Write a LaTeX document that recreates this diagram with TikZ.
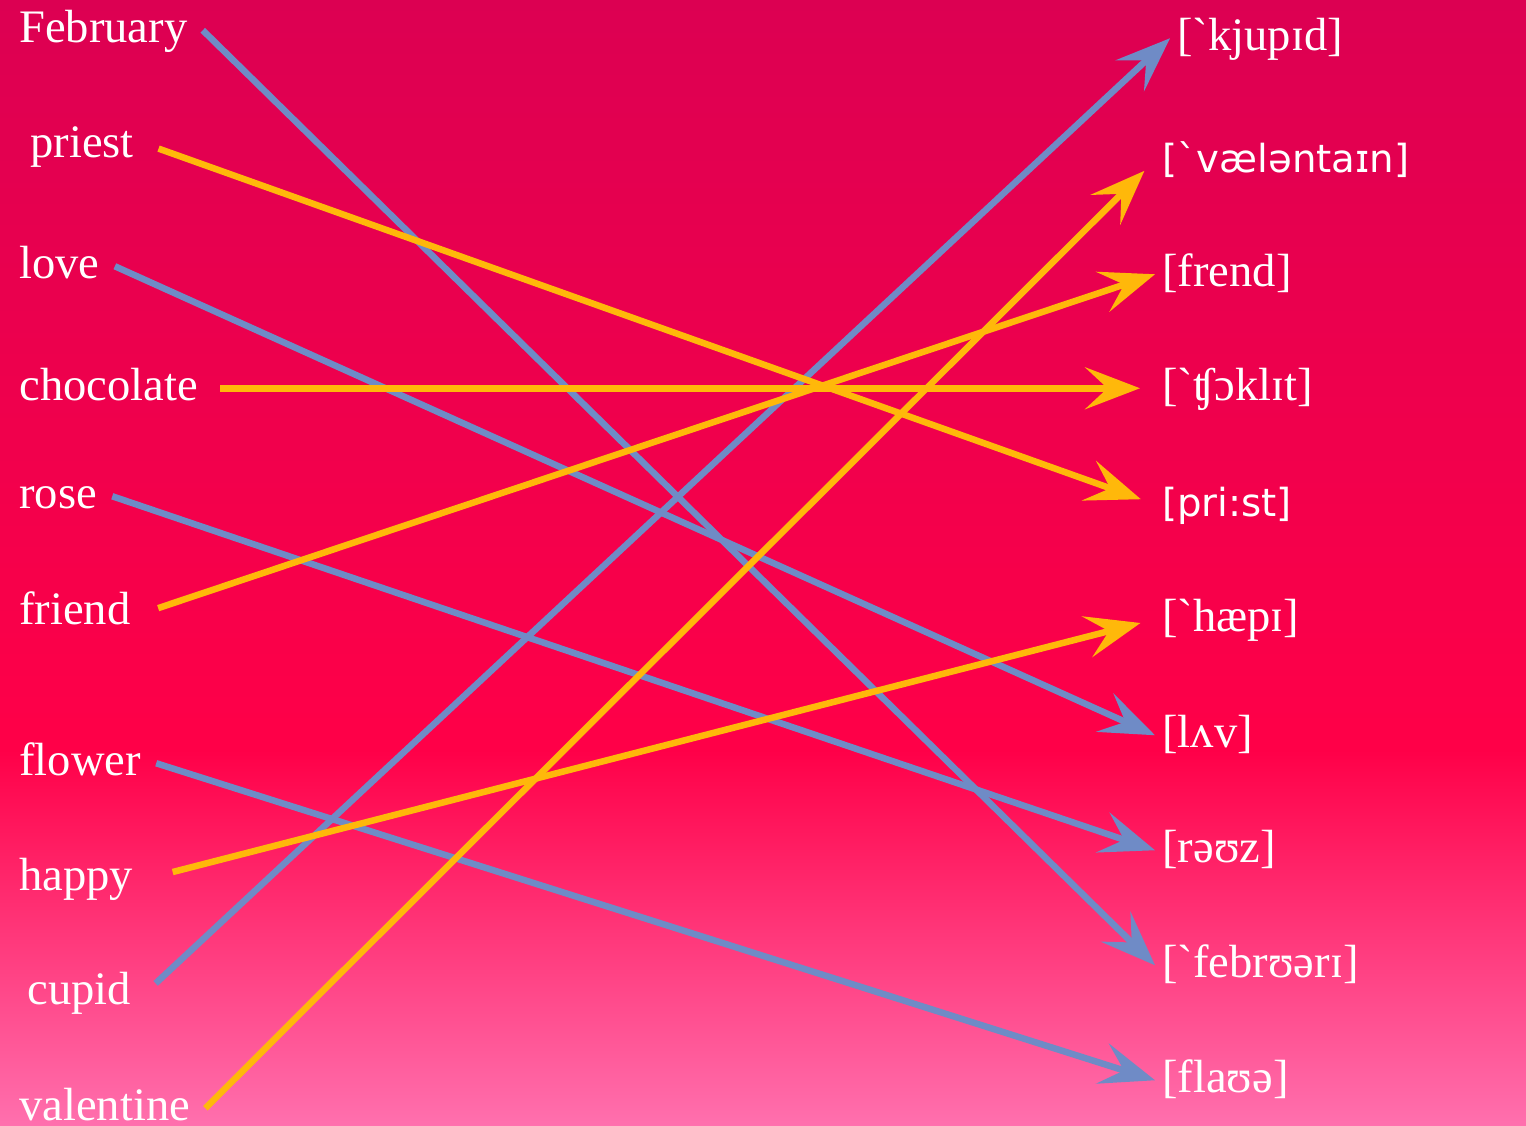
\documentclass[tikz,border=0pt]{standalone}
\usepackage{fontspec}
\setmainfont{Liberation Serif}
\newfontfamily\ipasans{DejaVu Sans}
\usetikzlibrary{arrows.meta}
\definecolor{bgtop}{HTML}{DC0052}
\definecolor{bgmid}{HTML}{FF0048}
\definecolor{bgbot}{HTML}{FF70AE}
\definecolor{linkblue}{HTML}{6F8BC6}
\definecolor{linkgold}{HTML}{FFB80A}
\tikzset{
  word/.style={anchor=base west,text=white,inner xsep=0.3cm,inner ysep=0pt,
    text height=0.66cm,text depth=0.19cm,font=\fontsize{26.5}{30}\selectfont},
  ipa/.style={word,inner xsep=0.14cm},
  ipasf/.style={ipa,font=\fontsize{22}{26}\ipasans},
  link/.style={line width=0.13cm,-{Stealth[length=1.1cm,width=0.84cm,inset=0.45cm]}},
  bluelink/.style={link,linkblue},
  goldlink/.style={link,linkgold}
}

\begin{document}
\begin{tikzpicture}[x=0.02cm,y=-0.02cm]
    \useasboundingbox (0,0) rectangle (1526,1126);
    \fill[top color=bgtop,bottom color=bgmid] (0,0) rectangle (1526,750);
    \fill[top color=bgmid,bottom color=bgbot] (0,750) rectangle (1526,1126);
    % words
    \node[word] (feb)   at (4,42)    {February};
    \node[word] (pri)   at (15,157)  {priest};
    \node[word] (lov)   at (4,278)   {love};
    \node[word] (cho)   at (4,400)   {chocolate};
    \node[word] (ros)   at (4,508)   {rose};
    \node[word] (fri)   at (4,624)   {friend};
    \node[word] (flo)   at (4,775)   {flower};
    \node[word] (hap)   at (4,890)   {happy};
    \node[word] (cup)   at (12,1004) {cupid};
    \node[word] (val)   at (4,1120)  {valentine};
    % phonetics
    \node[ipa]   (cupP) at (1170,50)  {[ˋkjupɪd]};
    \node[ipasf] (valP) at (1155,172) {[ˋvæləntaɪn]};
    \node[ipa]   (friP) at (1155,286) {[frend]};
    \node[ipa]   (choP) at (1155,400) {[ˋʧɔklɪt]};
    \node[ipasf] (priP) at (1155,516) {[pri:st]};
    \node[ipa]   (hapP) at (1155,631) {[ˋhæpɪ]};
    \node[ipa]   (lovP) at (1155,747) {[lʌv]};
    \node[ipa]   (rosP) at (1155,862) {[rəʊz]};
    \node[ipa]   (febP) at (1155,977) {[ˋfebrʊərɪ]};
    \node[ipa]   (floP) at (1155,1092) {[flaʊə]};
    % links
    \draw[bluelink] (feb.east) -- (febP.west);
    \draw[bluelink] (lov.east) -- (lovP.west);
    \draw[bluelink] (ros.east) -- (rosP.west);
    \draw[bluelink] (flo.east) -- (floP.west);
    \draw[bluelink,shorten <=0.26cm] (cup.east) -- (cupP.west);
    \draw[goldlink,shorten <=0.2cm,shorten >=0.3cm] (pri.east) -- (priP.west);
    \draw[goldlink,shorten <=0.14cm,shorten >=0.3cm] (cho.east) -- (choP.west);
    \draw[goldlink,shorten <=0.26cm] (fri.east) -- (friP.west);
    \draw[goldlink,shorten <=0.5cm,shorten >=0.3cm] (hap.east) -- (hapP.west);
    \draw[goldlink,shorten >=0.3cm] (val.east) -- (valP.west);
  \end{tikzpicture}
\end{document}
